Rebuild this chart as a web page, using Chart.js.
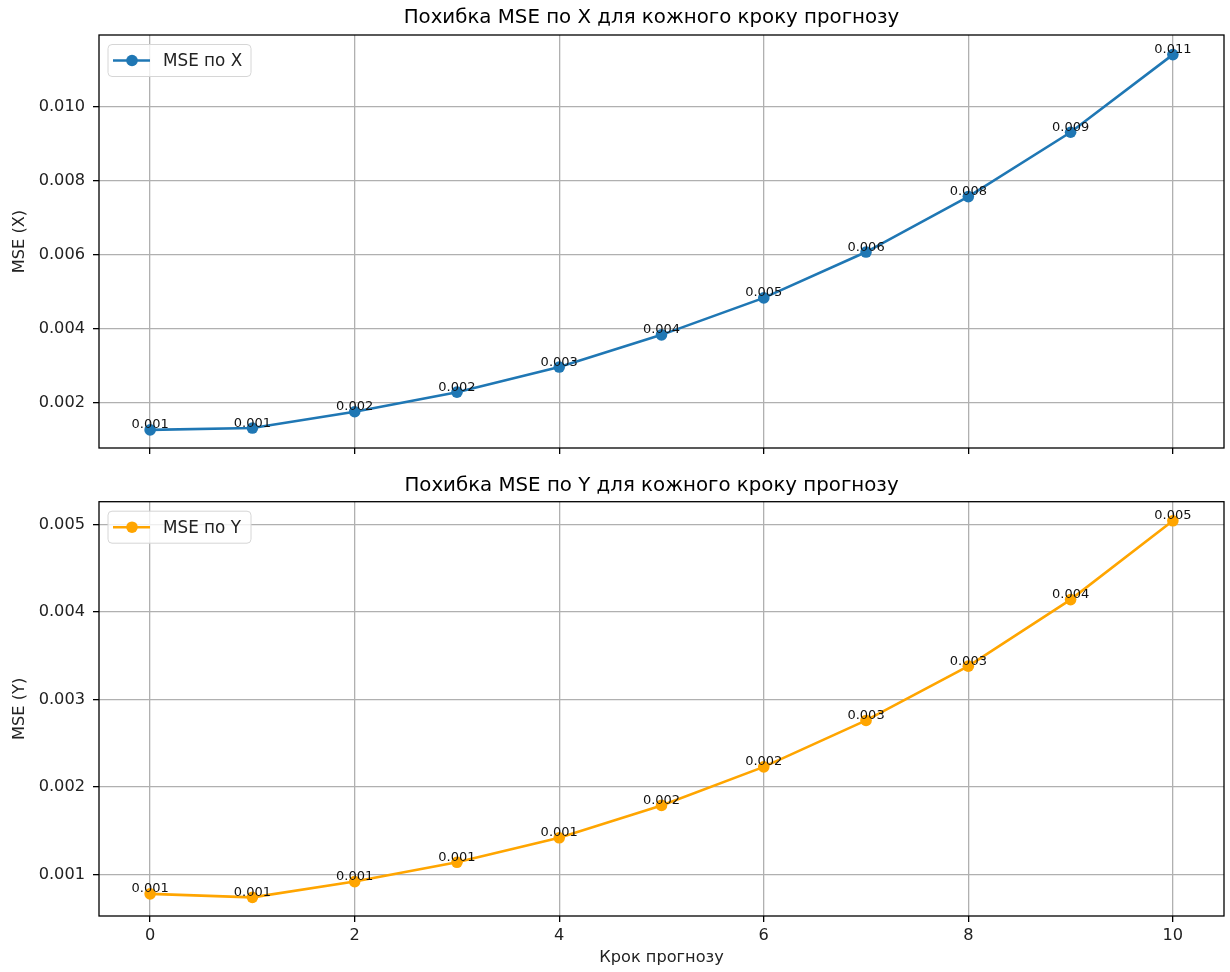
<!DOCTYPE html>
<html>
<head>
<meta charset="utf-8">
<script src="https://cdn.jsdelivr.net/npm/chart.js@4.4.0/dist/chart.umd.min.js"></script>
<style>
  html, body { margin: 0; padding: 0; background: #fff; }
  #wrap { position: relative; width: 1230px; height: 972px; }
  canvas { position: absolute; left: 0; }
  #chartX { top: 0; }
  #chartY { top: 470px; }
</style>
</head>
<body>
<div id="wrap">
  <canvas id="chartX" width="1230" height="470" style="width:1230px;height:470px"></canvas>
  <canvas id="chartY" width="1230" height="502" style="width:1230px;height:502px"></canvas>
</div>
<script>
// Forecast step errors
const steps = [0, 1, 2, 3, 4, 5, 6, 7, 8, 9, 10];
const mseX = [0.00127, 0.00132, 0.00176, 0.00229, 0.00297, 0.00384, 0.00484, 0.00608, 0.00758, 0.00932, 0.01142];
const mseY = [0.00078, 0.00074, 0.00092, 0.00114, 0.00142, 0.00179, 0.00223, 0.00276, 0.00338, 0.00414, 0.00504];

const xTicks = [0, 2, 4, 6, 8, 10];
const yTicksX = [0.002, 0.004, 0.006, 0.008, 0.010];
const yTicksY = [0.001, 0.002, 0.003, 0.004, 0.005];

const xRange = [-0.5, 10.5];
const yRangeX = [0.00078, 0.01195];
const yRangeY = [0.000527, 0.005258];

const FONT = 'DejaVu Sans';

// subplot title, drawn above the plot area
const plotTitle = {
  id: 'plotTitle',
  afterDraw(chart, args, opts) {
    const { ctx, chartArea: a } = chart;
    ctx.save();
    ctx.font = `19.8px "${FONT}"`;
    ctx.fillStyle = '#000';
    ctx.textAlign = 'center';
    ctx.textBaseline = 'middle';
    ctx.fillText(opts.text, (a.left + a.right) / 2 - 10, opts.y);
    ctx.restore();
  }
};

// box around the plot area (matplotlib spines)
const frame = {
  id: 'frame',
  afterDatasetsDraw(chart) {
    const { ctx, chartArea: a } = chart;
    ctx.save();
    ctx.strokeStyle = '#000';
    ctx.lineWidth = 1.3;
    ctx.strokeRect(a.left, a.top, a.right - a.left, a.bottom - a.top);
    ctx.restore();
  }
};

// value above every point
const pointLabels = {
  id: 'pointLabels',
  afterDatasetsDraw(chart) {
    const { ctx } = chart;
    const meta = chart.getDatasetMeta(0);
    const values = chart.data.datasets[0].data;
    ctx.save();
    ctx.font = `13px "${FONT}"`;
    ctx.fillStyle = '#111';
    ctx.textAlign = 'center';
    ctx.textBaseline = 'alphabetic';
    meta.data.forEach((pt, i) => {
      ctx.fillText(values[i].y.toFixed(3), pt.x, pt.y - 1.5);
    });
    ctx.restore();
  }
};

// legend inside the plot, top left
const legendBox = {
  id: 'legendBox',
  afterDraw(chart) {
    const { ctx, chartArea: a } = chart;
    const ds = chart.data.datasets[0];
    const x = a.left + 9, y = a.top + 9.5, w = 143, h = 32;
    const cy = y + h / 2;
    ctx.save();
    ctx.beginPath();
    ctx.roundRect(x, y, w, h, 4);
    ctx.fillStyle = 'rgba(255,255,255,0.8)';
    ctx.fill();
    ctx.strokeStyle = '#d6d6d6';
    ctx.lineWidth = 1;
    ctx.stroke();

    ctx.strokeStyle = ds.borderColor;
    ctx.lineWidth = 2.6;
    ctx.beginPath();
    ctx.moveTo(x + 5, cy);
    ctx.lineTo(x + 42, cy);
    ctx.stroke();
    ctx.fillStyle = ds.borderColor;
    ctx.beginPath();
    ctx.arc(x + 24, cy, 5.8, 0, Math.PI * 2);
    ctx.fill();

    ctx.fillStyle = '#222';
    ctx.font = `16.8px "${FONT}"`;
    ctx.textAlign = 'left';
    ctx.textBaseline = 'middle';
    ctx.fillText(ds.label, x + 55, cy + 1);
    ctx.restore();
  }
};

function makeChart(id, cfg) {
  const points = steps.map((s, i) => ({ x: s, y: cfg.values[i] }));
  return new Chart(document.getElementById(id), {
    type: 'line',
    data: {
      datasets: [{
        label: cfg.label,
        data: points,
        borderColor: cfg.color,
        backgroundColor: cfg.color,
        borderWidth: 2.6,
        pointRadius: 5.8,
        pointBorderWidth: 0,
        pointBackgroundColor: cfg.color,
        tension: 0,
        fill: false
      }]
    },
    options: {
      responsive: false,
      animation: false,
      layout: { padding: { top: cfg.top, right: 6, bottom: 0, left: 0 } },
      plugins: {
        legend: { display: false },
        tooltip: { enabled: false },
        title: { display: false },
        plotTitle: { text: cfg.title, y: cfg.titleY }
      },
      scales: {
        x: {
          type: 'linear',
          min: xRange[0],
          max: xRange[1],
          afterBuildTicks: (scale) => { scale.ticks = xTicks.map(v => ({ value: v })); },
          afterFit: (scale) => { scale.height = cfg.xHeight; },
          grid: { color: '#b0b0b0', lineWidth: 1.3, tickColor: '#000', tickWidth: 1.3, tickLength: 6 },
          border: { display: false },
          ticks: {
            display: cfg.showX,
            color: '#222',
            padding: 4,
            maxRotation: 0,
            font: { family: FONT, size: 16.2 },
            callback: (v) => String(v)
          },
          title: {
            display: cfg.showX,
            text: 'Крок прогнозу',
            color: '#222',
            font: { family: FONT, size: 16.2 },
            padding: { top: 4, bottom: 4.4 }
          }
        },
        y: {
          type: 'linear',
          min: cfg.range[0],
          max: cfg.range[1],
          afterBuildTicks: (scale) => { scale.ticks = cfg.ticks.map(v => ({ value: v })); },
          afterFit: (scale) => { scale.width = 99; },
          grid: { color: '#b0b0b0', lineWidth: 1.3, tickColor: '#000', tickWidth: 1.3, tickLength: 6 },
          border: { display: false },
          ticks: {
            color: '#222',
            padding: 8,
            font: { family: FONT, size: 16.2 },
            callback: (v) => Number(v).toFixed(3)
          },
          title: {
            display: true,
            text: cfg.yTitle,
            color: '#222',
            font: { family: FONT, size: 16.2 },
            padding: { top: 10, bottom: 0 }
          }
        }
      }
    },
    plugins: [frame, pointLabels, legendBox, plotTitle]
  });
}

makeChart('chartX', {
  values: mseX,
  label: 'MSE по X',
  color: '#1f77b4',
  title: 'Похибка MSE по X для кожного кроку прогнозу',
  yTitle: 'MSE (X)',
  range: yRangeX,
  ticks: yTicksX,
  top: 35,
  titleY: 17.5,
  xHeight: 22,
  showX: false
});

makeChart('chartY', {
  values: mseY,
  label: 'MSE по Y',
  color: '#ffa500',
  title: 'Похибка MSE по Y для кожного кроку прогнозу',
  yTitle: 'MSE (Y)',
  range: yRangeY,
  ticks: yTicksY,
  top: 31.7,
  titleY: 16,
  xHeight: 56,
  showX: true
});
</script>
</body>
</html>
